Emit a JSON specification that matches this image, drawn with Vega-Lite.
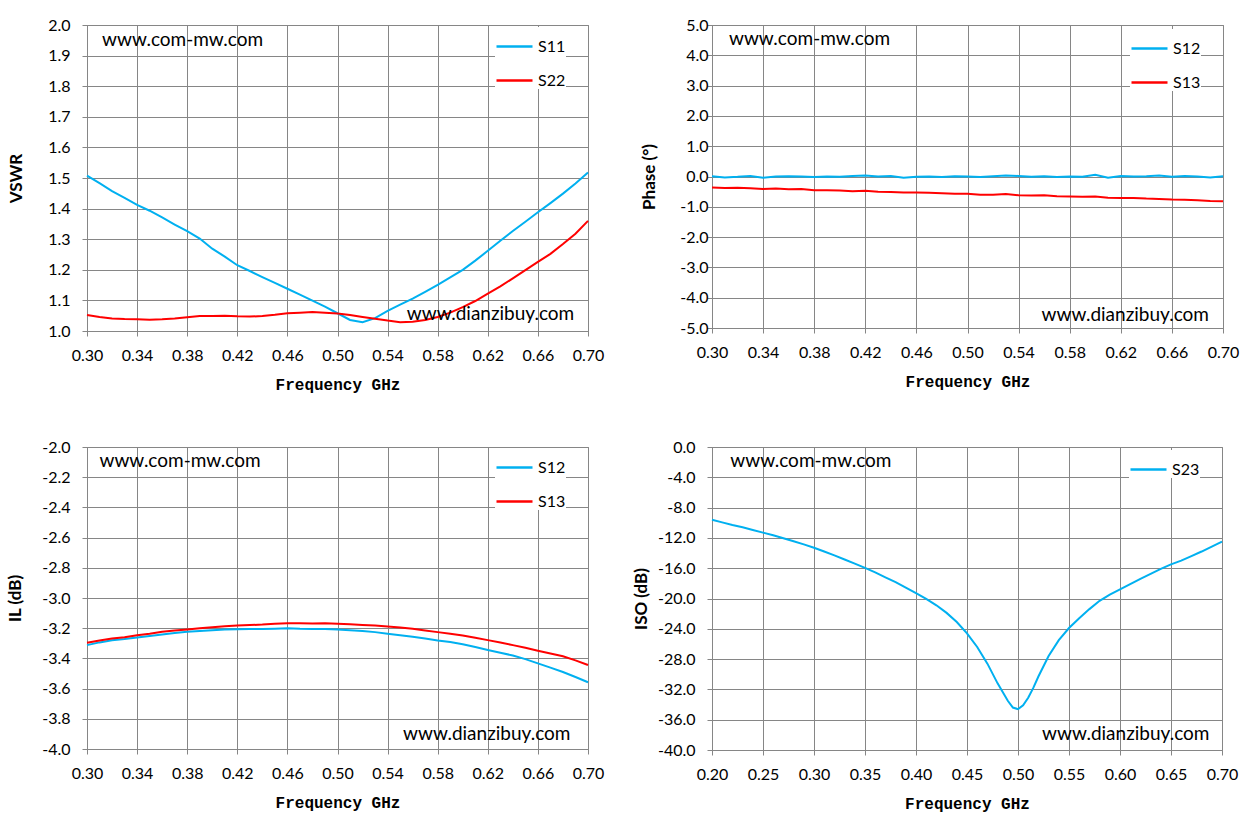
{
  "$schema": "https://vega.github.io/schema/vega-lite/v6.json",
  "background": "white",
  "padding": {"left": 6, "top": 16, "right": 10, "bottom": 10},
  "columns": 2,
  "spacing": {"row": 116, "column": 124},
  "bounds": "flush",
  "resolve": {"scale": {"color": "independent"}, "legend": {"color": "independent"}},
  "concat": [
    {
      "width": 501,
      "height": 306,
      "data": {"values": [
        {"f": 0.30, "S11": 1.508, "S22": 1.052}, {"f": 0.31, "S11": 1.483, "S22": 1.046},
        {"f": 0.32, "S11": 1.457, "S22": 1.041}, {"f": 0.33, "S11": 1.435, "S22": 1.039},
        {"f": 0.34, "S11": 1.412, "S22": 1.038}, {"f": 0.35, "S11": 1.393, "S22": 1.037},
        {"f": 0.36, "S11": 1.371, "S22": 1.038}, {"f": 0.37, "S11": 1.348, "S22": 1.041},
        {"f": 0.38, "S11": 1.326, "S22": 1.045}, {"f": 0.39, "S11": 1.302, "S22": 1.049},
        {"f": 0.40, "S11": 1.269, "S22": 1.049}, {"f": 0.41, "S11": 1.243, "S22": 1.050},
        {"f": 0.42, "S11": 1.215, "S22": 1.048}, {"f": 0.43, "S11": 1.196, "S22": 1.047},
        {"f": 0.44, "S11": 1.176, "S22": 1.049}, {"f": 0.45, "S11": 1.157, "S22": 1.053},
        {"f": 0.46, "S11": 1.138, "S22": 1.058}, {"f": 0.47, "S11": 1.119, "S22": 1.060},
        {"f": 0.48, "S11": 1.099, "S22": 1.062}, {"f": 0.49, "S11": 1.080, "S22": 1.060},
        {"f": 0.50, "S11": 1.058, "S22": 1.057}, {"f": 0.51, "S11": 1.036, "S22": 1.052},
        {"f": 0.52, "S11": 1.029, "S22": 1.046}, {"f": 0.53, "S11": 1.042, "S22": 1.040},
        {"f": 0.54, "S11": 1.066, "S22": 1.034}, {"f": 0.55, "S11": 1.086, "S22": 1.029},
        {"f": 0.56, "S11": 1.106, "S22": 1.030}, {"f": 0.57, "S11": 1.128, "S22": 1.036},
        {"f": 0.58, "S11": 1.151, "S22": 1.046}, {"f": 0.59, "S11": 1.175, "S22": 1.060},
        {"f": 0.60, "S11": 1.200, "S22": 1.078}, {"f": 0.61, "S11": 1.230, "S22": 1.098},
        {"f": 0.62, "S11": 1.262, "S22": 1.122}, {"f": 0.63, "S11": 1.295, "S22": 1.146},
        {"f": 0.64, "S11": 1.327, "S22": 1.172}, {"f": 0.65, "S11": 1.357, "S22": 1.199},
        {"f": 0.66, "S11": 1.388, "S22": 1.226}, {"f": 0.67, "S11": 1.418, "S22": 1.252},
        {"f": 0.68, "S11": 1.449, "S22": 1.284}, {"f": 0.69, "S11": 1.482, "S22": 1.318},
        {"f": 0.70, "S11": 1.518, "S22": 1.360}
      ]},
      "layer": [
        {
          "transform": [{"fold": ["S11", "S22"], "as": ["series", "v"]}],
          "mark": {"type": "line", "strokeWidth": 2},
          "encoding": {
            "x": {"field": "f", "type": "quantitative",
                  "scale": {"domain": [0.3, 0.7], "nice": false, "zero": false},
                  "axis": {"title": "Frequency GHz", "format": ".2f", "labelOverlap": false, "tickCount": 11,
                           "values": [0.30, 0.34, 0.38, 0.42, 0.46, 0.50, 0.54, 0.58, 0.62, 0.66, 0.70]}},
            "y": {"field": "v", "type": "quantitative",
                  "scale": {"domain": [1.0, 2.0], "nice": false, "zero": false},
                  "axis": {"title": "VSWR", "format": ".1f", "titlePadding": 22, "labelOverlap": false, "tickCount": 11,
                           "values": [1.0, 1.1, 1.2, 1.3, 1.4, 1.5, 1.6, 1.7, 1.8, 1.9, 2.0]}},
            "color": {"field": "series", "type": "nominal",
                      "scale": {"domain": ["S11", "S22"], "range": ["#00B0F0", "#FF0000"]},
                      "legend": {"orient": "none", "legendX": 408, "legendY": 2}}
          }
        },
        {
          "data": {"values": [{"t": "www.com-mw.com"}]},
          "mark": {"type": "text", "align": "left", "baseline": "middle", "font": "Lato", "fontSize": 19, "color": "#000000"},
          "encoding": {
            "x": {"datum": 0.312, "type": "quantitative"},
            "y": {"datum": 1.95, "type": "quantitative"},
            "text": {"field": "t"}
          }
        },
        {
          "data": {"values": [{"t": "www.dianzibuy.com"}]},
          "mark": {"type": "text", "align": "right", "baseline": "middle", "font": "Lato", "fontSize": 19, "color": "#000000"},
          "encoding": {
            "x": {"datum": 0.689, "type": "quantitative"},
            "y": {"datum": 1.056, "type": "quantitative"},
            "text": {"field": "t"}
          }
        }
      ]
    },
    {
      "width": 511,
      "height": 303,
      "data": {"values": [
        {"f": 0.30, "S12": 0.01, "S13": -0.36}, {"f": 0.31, "S12": -0.03, "S13": -0.38},
        {"f": 0.32, "S12": -0.01, "S13": -0.37}, {"f": 0.33, "S12": 0.02, "S13": -0.39},
        {"f": 0.34, "S12": -0.04, "S13": -0.41}, {"f": 0.35, "S12": 0.00, "S13": -0.40},
        {"f": 0.36, "S12": 0.01, "S13": -0.42}, {"f": 0.37, "S12": 0.00, "S13": -0.41},
        {"f": 0.38, "S12": -0.02, "S13": -0.45}, {"f": 0.39, "S12": 0.00, "S13": -0.45},
        {"f": 0.40, "S12": -0.01, "S13": -0.46}, {"f": 0.41, "S12": 0.02, "S13": -0.49},
        {"f": 0.42, "S12": 0.03, "S13": -0.47}, {"f": 0.43, "S12": 0.00, "S13": -0.50},
        {"f": 0.44, "S12": 0.02, "S13": -0.51}, {"f": 0.45, "S12": -0.04, "S13": -0.53},
        {"f": 0.46, "S12": -0.01, "S13": -0.53}, {"f": 0.47, "S12": 0.00, "S13": -0.54},
        {"f": 0.48, "S12": -0.02, "S13": -0.55}, {"f": 0.49, "S12": 0.01, "S13": -0.57},
        {"f": 0.50, "S12": 0.00, "S13": -0.57}, {"f": 0.51, "S12": -0.02, "S13": -0.60},
        {"f": 0.52, "S12": 0.01, "S13": -0.60}, {"f": 0.53, "S12": 0.03, "S13": -0.58},
        {"f": 0.54, "S12": 0.02, "S13": -0.62}, {"f": 0.55, "S12": -0.01, "S13": -0.63},
        {"f": 0.56, "S12": 0.01, "S13": -0.62}, {"f": 0.57, "S12": -0.02, "S13": -0.65},
        {"f": 0.58, "S12": 0.00, "S13": -0.66}, {"f": 0.59, "S12": -0.01, "S13": -0.67},
        {"f": 0.60, "S12": 0.06, "S13": -0.66}, {"f": 0.61, "S12": -0.04, "S13": -0.70},
        {"f": 0.62, "S12": 0.02, "S13": -0.71}, {"f": 0.63, "S12": 0.00, "S13": -0.71},
        {"f": 0.64, "S12": 0.01, "S13": -0.73}, {"f": 0.65, "S12": 0.03, "S13": -0.74},
        {"f": 0.66, "S12": -0.01, "S13": -0.76}, {"f": 0.67, "S12": 0.02, "S13": -0.77},
        {"f": 0.68, "S12": 0.00, "S13": -0.78}, {"f": 0.69, "S12": -0.03, "S13": -0.81},
        {"f": 0.70, "S12": 0.01, "S13": -0.82}
      ]},
      "layer": [
        {
          "transform": [{"fold": ["S12", "S13"], "as": ["series", "v"]}],
          "mark": {"type": "line", "strokeWidth": 2},
          "encoding": {
            "x": {"field": "f", "type": "quantitative",
                  "scale": {"domain": [0.3, 0.7], "nice": false, "zero": false},
                  "axis": {"title": "Frequency GHz", "format": ".2f", "labelOverlap": false, "tickCount": 11,
                           "values": [0.30, 0.34, 0.38, 0.42, 0.46, 0.50, 0.54, 0.58, 0.62, 0.66, 0.70]}},
            "y": {"field": "v", "type": "quantitative",
                  "scale": {"domain": [-5, 5], "nice": false, "zero": false},
                  "axis": {"title": "Phase (°)", "format": ".1f", "titlePadding": 21, "labelPadding": -1, "labelOverlap": false, "tickCount": 11,
                           "values": [-5, -4, -3, -2, -1, 0, 1, 2, 3, 4, 5]}},
            "color": {"field": "series", "type": "nominal",
                      "scale": {"domain": ["S12", "S13"], "range": ["#00B0F0", "#FF0000"]},
                      "legend": {"orient": "none", "legendX": 418, "legendY": 4}}
          }
        },
        {
          "data": {"values": [{"t": "www.com-mw.com"}]},
          "mark": {"type": "text", "align": "left", "baseline": "middle", "font": "Lato", "fontSize": 19, "color": "#000000"},
          "encoding": {
            "x": {"datum": 0.3133, "type": "quantitative"},
            "y": {"datum": 4.54, "type": "quantitative"},
            "text": {"field": "t"}
          }
        },
        {
          "data": {"values": [{"t": "www.dianzibuy.com"}]},
          "mark": {"type": "text", "align": "right", "baseline": "middle", "font": "Lato", "fontSize": 19, "color": "#000000"},
          "encoding": {
            "x": {"datum": 0.689, "type": "quantitative"},
            "y": {"datum": -4.57, "type": "quantitative"},
            "text": {"field": "t"}
          }
        }
      ]
    },
    {
      "width": 501,
      "height": 302,
      "data": {"values": [
        {"f": 0.30, "S12": -3.312, "S13": -3.296}, {"f": 0.31, "S12": -3.294, "S13": -3.281},
        {"f": 0.32, "S12": -3.280, "S13": -3.268}, {"f": 0.33, "S12": -3.272, "S13": -3.260},
        {"f": 0.34, "S12": -3.262, "S13": -3.246}, {"f": 0.35, "S12": -3.252, "S13": -3.236},
        {"f": 0.36, "S12": -3.242, "S13": -3.224}, {"f": 0.37, "S12": -3.232, "S13": -3.216},
        {"f": 0.38, "S12": -3.224, "S13": -3.208}, {"f": 0.39, "S12": -3.218, "S13": -3.200},
        {"f": 0.40, "S12": -3.213, "S13": -3.193}, {"f": 0.41, "S12": -3.209, "S13": -3.187},
        {"f": 0.42, "S12": -3.207, "S13": -3.182}, {"f": 0.43, "S12": -3.206, "S13": -3.179},
        {"f": 0.44, "S12": -3.206, "S13": -3.176}, {"f": 0.45, "S12": -3.203, "S13": -3.171},
        {"f": 0.46, "S12": -3.200, "S13": -3.168}, {"f": 0.47, "S12": -3.204, "S13": -3.168},
        {"f": 0.48, "S12": -3.206, "S13": -3.169}, {"f": 0.49, "S12": -3.206, "S13": -3.168},
        {"f": 0.50, "S12": -3.209, "S13": -3.170}, {"f": 0.51, "S12": -3.214, "S13": -3.174},
        {"f": 0.52, "S12": -3.218, "S13": -3.178}, {"f": 0.53, "S12": -3.226, "S13": -3.182},
        {"f": 0.54, "S12": -3.236, "S13": -3.188}, {"f": 0.55, "S12": -3.246, "S13": -3.195},
        {"f": 0.56, "S12": -3.257, "S13": -3.204}, {"f": 0.57, "S12": -3.268, "S13": -3.215},
        {"f": 0.58, "S12": -3.281, "S13": -3.226}, {"f": 0.59, "S12": -3.292, "S13": -3.237},
        {"f": 0.60, "S12": -3.306, "S13": -3.249}, {"f": 0.61, "S12": -3.325, "S13": -3.263},
        {"f": 0.62, "S12": -3.345, "S13": -3.279}, {"f": 0.63, "S12": -3.362, "S13": -3.295},
        {"f": 0.64, "S12": -3.381, "S13": -3.312}, {"f": 0.65, "S12": -3.405, "S13": -3.330},
        {"f": 0.66, "S12": -3.433, "S13": -3.349}, {"f": 0.67, "S12": -3.461, "S13": -3.367},
        {"f": 0.68, "S12": -3.490, "S13": -3.386}, {"f": 0.69, "S12": -3.523, "S13": -3.413},
        {"f": 0.70, "S12": -3.558, "S13": -3.444}
      ]},
      "layer": [
        {
          "transform": [{"fold": ["S12", "S13"], "as": ["series", "v"]}],
          "mark": {"type": "line", "strokeWidth": 2},
          "encoding": {
            "x": {"field": "f", "type": "quantitative",
                  "scale": {"domain": [0.3, 0.7], "nice": false, "zero": false},
                  "axis": {"title": "Frequency GHz", "format": ".2f", "labelOverlap": false, "tickCount": 11,
                           "values": [0.30, 0.34, 0.38, 0.42, 0.46, 0.50, 0.54, 0.58, 0.62, 0.66, 0.70]}},
            "y": {"field": "v", "type": "quantitative",
                  "scale": {"domain": [-4, -2], "nice": false, "zero": false},
                  "axis": {"title": "IL (dB)", "format": ".1f", "titlePadding": 17, "labelOverlap": false, "tickCount": 11,
                           "values": [-4.0, -3.8, -3.6, -3.4, -3.2, -3.0, -2.8, -2.6, -2.4, -2.2, -2.0]}},
            "color": {"field": "series", "type": "nominal",
                      "scale": {"domain": ["S12", "S13"], "range": ["#00B0F0", "#FF0000"]},
                      "legend": {"orient": "none", "legendX": 408, "legendY": 1}}
          }
        },
        {
          "data": {"values": [{"t": "www.com-mw.com"}]},
          "mark": {"type": "text", "align": "left", "baseline": "middle", "font": "Lato", "fontSize": 19, "color": "#000000"},
          "encoding": {
            "x": {"datum": 0.310, "type": "quantitative"},
            "y": {"datum": -2.095, "type": "quantitative"},
            "text": {"field": "t"}
          }
        },
        {
          "data": {"values": [{"t": "www.dianzibuy.com"}]},
          "mark": {"type": "text", "align": "right", "baseline": "middle", "font": "Lato", "fontSize": 19, "color": "#000000"},
          "encoding": {
            "x": {"datum": 0.686, "type": "quantitative"},
            "y": {"datum": -3.899, "type": "quantitative"},
            "text": {"field": "t"}
          }
        }
      ]
    },
    {
      "width": 510,
      "height": 303,
      "data": {"values": [
        {"f": 0.20, "S23": -9.6}, {"f": 0.21, "S23": -9.95}, {"f": 0.22, "S23": -10.3},
        {"f": 0.23, "S23": -10.6}, {"f": 0.24, "S23": -10.95}, {"f": 0.25, "S23": -11.3},
        {"f": 0.26, "S23": -11.65}, {"f": 0.27, "S23": -12.05}, {"f": 0.28, "S23": -12.45},
        {"f": 0.29, "S23": -12.85}, {"f": 0.30, "S23": -13.3}, {"f": 0.31, "S23": -13.8},
        {"f": 0.32, "S23": -14.3}, {"f": 0.33, "S23": -14.85}, {"f": 0.34, "S23": -15.4},
        {"f": 0.35, "S23": -15.95}, {"f": 0.36, "S23": -16.55}, {"f": 0.37, "S23": -17.2},
        {"f": 0.38, "S23": -17.85}, {"f": 0.39, "S23": -18.55}, {"f": 0.40, "S23": -19.3},
        {"f": 0.41, "S23": -20.05}, {"f": 0.42, "S23": -20.9}, {"f": 0.43, "S23": -21.9},
        {"f": 0.44, "S23": -23.1}, {"f": 0.45, "S23": -24.6}, {"f": 0.46, "S23": -26.4},
        {"f": 0.47, "S23": -28.6}, {"f": 0.48, "S23": -31.2}, {"f": 0.49, "S23": -33.5},
        {"f": 0.495, "S23": -34.4}, {"f": 0.50, "S23": -34.6}, {"f": 0.505, "S23": -34.1},
        {"f": 0.51, "S23": -33.1}, {"f": 0.515, "S23": -31.8}, {"f": 0.52, "S23": -30.3},
        {"f": 0.53, "S23": -27.6}, {"f": 0.54, "S23": -25.5}, {"f": 0.55, "S23": -23.9},
        {"f": 0.56, "S23": -22.6}, {"f": 0.57, "S23": -21.4}, {"f": 0.58, "S23": -20.3},
        {"f": 0.59, "S23": -19.5}, {"f": 0.60, "S23": -18.8}, {"f": 0.61, "S23": -18.1},
        {"f": 0.62, "S23": -17.4}, {"f": 0.63, "S23": -16.75}, {"f": 0.64, "S23": -16.1},
        {"f": 0.65, "S23": -15.5}, {"f": 0.66, "S23": -15.0}, {"f": 0.67, "S23": -14.4},
        {"f": 0.68, "S23": -13.8}, {"f": 0.69, "S23": -13.15}, {"f": 0.70, "S23": -12.5}
      ]},
      "layer": [
        {
          "transform": [{"fold": ["S23"], "as": ["series", "v"]}],
          "mark": {"type": "line", "strokeWidth": 2},
          "encoding": {
            "x": {"field": "f", "type": "quantitative",
                  "scale": {"domain": [0.2, 0.7], "nice": false, "zero": false},
                  "axis": {"title": "Frequency GHz", "format": ".2f", "labelOverlap": false, "tickCount": 11,
                           "values": [0.20, 0.25, 0.30, 0.35, 0.40, 0.45, 0.50, 0.55, 0.60, 0.65, 0.70]}},
            "y": {"field": "v", "type": "quantitative",
                  "scale": {"domain": [-40, 0], "nice": false, "zero": false},
                  "axis": {"title": "ISO (dB)", "format": ".1f", "titlePadding": 7, "labelOverlap": false, "tickCount": 11,
                           "values": [-40, -36, -32, -28, -24, -20, -16, -12, -8, -4, 0]}},
            "color": {"field": "series", "type": "nominal",
                      "scale": {"domain": ["S23"], "range": ["#00B0F0"]},
                      "legend": {"orient": "none", "legendX": 417, "legendY": 3}}
          }
        },
        {
          "data": {"values": [{"t": "www.com-mw.com"}]},
          "mark": {"type": "text", "align": "left", "baseline": "middle", "font": "Lato", "fontSize": 19, "color": "#000000"},
          "encoding": {
            "x": {"datum": 0.218, "type": "quantitative"},
            "y": {"datum": -1.81, "type": "quantitative"},
            "text": {"field": "t"}
          }
        },
        {
          "data": {"values": [{"t": "www.dianzibuy.com"}]},
          "mark": {"type": "text", "align": "right", "baseline": "middle", "font": "Lato", "fontSize": 19, "color": "#000000"},
          "encoding": {
            "x": {"datum": 0.6877, "type": "quantitative"},
            "y": {"datum": -37.9, "type": "quantitative"},
            "text": {"field": "t"}
          }
        }
      ]
    }
  ],
  "config": {
    "font": "Lato",
    "locale": {"number": {"decimal": ".", "thousands": ",", "grouping": [3], "currency": ["$", ""], "minus": "-"}},
    "view": {"stroke": "#868686", "strokeWidth": 1},
    "axis": {
      "grid": true, "gridColor": "#868686", "gridOpacity": 1, "gridWidth": 1,
      "domainColor": "#868686", "tickColor": "#868686", "tickSize": 5,
      "labelFont": "Lato", "labelFontSize": 16, "labelColor": "#000000",
      "labelFlush": false, "labelOverlap": false, "labelBound": false,
      "titleColor": "#000000"
    },
    "axisX": {"labelPadding": 11, "titleFont": "Liberation Mono", "titleFontSize": 16, "titleFontWeight": "bold", "titlePadding": 13},
    "axisY": {"labelPadding": 12, "titleFont": "Lato", "titleFontSize": 17, "titleFontWeight": "bold"},
    "legend": {
      "padding": 0, "fillColor": "white", "title": null,
      "symbolType": "stroke", "symbolSize": 1296, "symbolStrokeWidth": 2.5,
      "labelFont": "Lato", "labelFontSize": 16, "labelColor": "#000000", "labelOffset": 4,
      "rowPadding": 6
    }
  }
}
